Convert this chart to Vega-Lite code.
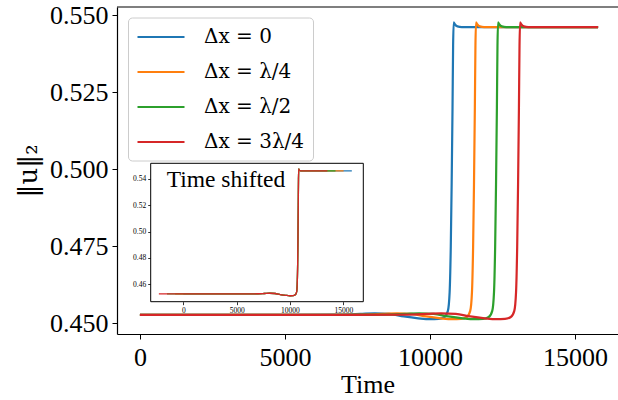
{
"$schema":"https://vega.github.io/schema/vega-lite/v6.json",
"width":501,"height":327,
"autosize":{"type":"none"},
"padding":{"left":117,"top":7,"right":0,"bottom":66},
"config":{"font":"Liberation Serif","view":{"stroke":null},"axis":{"grid":false,"domainColor":"black","tickColor":"black","labelColor":"black","titleColor":"black","titleFontWeight":"normal"}},
"data":{"values":[
{"s":"Δx = 0","t":0,"ts":0,"v":0.4527},{"s":"Δx = 0","t":5000,"ts":5000,"v":0.4527},{"s":"Δx = 0","t":7000,"ts":7000,"v":0.4528},{"s":"Δx = 0","t":7600,"ts":7600,"v":0.4530},{"s":"Δx = 0","t":8100,"ts":8100,"v":0.4532},{"s":"Δx = 0","t":8600,"ts":8600,"v":0.4530},{"s":"Δx = 0","t":9100,"ts":9100,"v":0.4522},{"s":"Δx = 0","t":9600,"ts":9600,"v":0.4516},{"s":"Δx = 0","t":10000,"ts":10000,"v":0.4513},{"s":"Δx = 0","t":10300,"ts":10300,"v":0.4514},{"s":"Δx = 0","t":10500,"ts":10500,"v":0.4520},{"s":"Δx = 0","t":10620,"ts":10620,"v":0.4540},{"s":"Δx = 0","t":10680,"ts":10680,"v":0.4600},{"s":"Δx = 0","t":10720,"ts":10720,"v":0.4750},{"s":"Δx = 0","t":10750,"ts":10750,"v":0.4950},{"s":"Δx = 0","t":10780,"ts":10780,"v":0.5200},{"s":"Δx = 0","t":10800,"ts":10800,"v":0.5400},{"s":"Δx = 0","t":10820,"ts":10820,"v":0.5476},{"s":"Δx = 0","t":10860,"ts":10860,"v":0.5470},{"s":"Δx = 0","t":10950,"ts":10950,"v":0.5463},{"s":"Δx = 0","t":11100,"ts":11100,"v":0.5461},{"s":"Δx = 0","t":15800,"ts":15800,"v":0.5461},
{"s":"Δx = λ/4","t":0,"ts":-770,"v":0.4527},{"s":"Δx = λ/4","t":5770,"ts":5000,"v":0.4527},{"s":"Δx = λ/4","t":7770,"ts":7000,"v":0.4528},{"s":"Δx = λ/4","t":8370,"ts":7600,"v":0.4530},{"s":"Δx = λ/4","t":8870,"ts":8100,"v":0.4532},{"s":"Δx = λ/4","t":9370,"ts":8600,"v":0.4530},{"s":"Δx = λ/4","t":9870,"ts":9100,"v":0.4522},{"s":"Δx = λ/4","t":10370,"ts":9600,"v":0.4516},{"s":"Δx = λ/4","t":10770,"ts":10000,"v":0.4513},{"s":"Δx = λ/4","t":11070,"ts":10300,"v":0.4514},{"s":"Δx = λ/4","t":11270,"ts":10500,"v":0.4520},{"s":"Δx = λ/4","t":11390,"ts":10620,"v":0.4540},{"s":"Δx = λ/4","t":11450,"ts":10680,"v":0.4600},{"s":"Δx = λ/4","t":11490,"ts":10720,"v":0.4750},{"s":"Δx = λ/4","t":11520,"ts":10750,"v":0.4950},{"s":"Δx = λ/4","t":11550,"ts":10780,"v":0.5200},{"s":"Δx = λ/4","t":11570,"ts":10800,"v":0.5400},{"s":"Δx = λ/4","t":11590,"ts":10820,"v":0.5476},{"s":"Δx = λ/4","t":11630,"ts":10860,"v":0.5470},{"s":"Δx = λ/4","t":11720,"ts":10950,"v":0.5463},{"s":"Δx = λ/4","t":11870,"ts":11100,"v":0.5461},{"s":"Δx = λ/4","t":15800,"ts":15030,"v":0.5461},
{"s":"Δx = λ/2","t":0,"ts":-1530,"v":0.4527},{"s":"Δx = λ/2","t":6530,"ts":5000,"v":0.4527},{"s":"Δx = λ/2","t":8530,"ts":7000,"v":0.4528},{"s":"Δx = λ/2","t":9130,"ts":7600,"v":0.4530},{"s":"Δx = λ/2","t":9630,"ts":8100,"v":0.4532},{"s":"Δx = λ/2","t":10130,"ts":8600,"v":0.4530},{"s":"Δx = λ/2","t":10630,"ts":9100,"v":0.4522},{"s":"Δx = λ/2","t":11130,"ts":9600,"v":0.4516},{"s":"Δx = λ/2","t":11530,"ts":10000,"v":0.4513},{"s":"Δx = λ/2","t":11830,"ts":10300,"v":0.4514},{"s":"Δx = λ/2","t":12030,"ts":10500,"v":0.4520},{"s":"Δx = λ/2","t":12150,"ts":10620,"v":0.4540},{"s":"Δx = λ/2","t":12210,"ts":10680,"v":0.4600},{"s":"Δx = λ/2","t":12250,"ts":10720,"v":0.4750},{"s":"Δx = λ/2","t":12280,"ts":10750,"v":0.4950},{"s":"Δx = λ/2","t":12310,"ts":10780,"v":0.5200},{"s":"Δx = λ/2","t":12330,"ts":10800,"v":0.5400},{"s":"Δx = λ/2","t":12350,"ts":10820,"v":0.5476},{"s":"Δx = λ/2","t":12390,"ts":10860,"v":0.5470},{"s":"Δx = λ/2","t":12480,"ts":10950,"v":0.5463},{"s":"Δx = λ/2","t":12630,"ts":11100,"v":0.5461},{"s":"Δx = λ/2","t":15800,"ts":14270,"v":0.5461},
{"s":"Δx = 3λ/4","t":0,"ts":-2290,"v":0.4527},{"s":"Δx = 3λ/4","t":7290,"ts":5000,"v":0.4527},{"s":"Δx = 3λ/4","t":9290,"ts":7000,"v":0.4528},{"s":"Δx = 3λ/4","t":9890,"ts":7600,"v":0.4530},{"s":"Δx = 3λ/4","t":10390,"ts":8100,"v":0.4532},{"s":"Δx = 3λ/4","t":10890,"ts":8600,"v":0.4530},{"s":"Δx = 3λ/4","t":11390,"ts":9100,"v":0.4522},{"s":"Δx = 3λ/4","t":11890,"ts":9600,"v":0.4516},{"s":"Δx = 3λ/4","t":12290,"ts":10000,"v":0.4513},{"s":"Δx = 3λ/4","t":12590,"ts":10300,"v":0.4514},{"s":"Δx = 3λ/4","t":12790,"ts":10500,"v":0.4520},{"s":"Δx = 3λ/4","t":12910,"ts":10620,"v":0.4540},{"s":"Δx = 3λ/4","t":12970,"ts":10680,"v":0.4600},{"s":"Δx = 3λ/4","t":13010,"ts":10720,"v":0.4750},{"s":"Δx = 3λ/4","t":13040,"ts":10750,"v":0.4950},{"s":"Δx = 3λ/4","t":13070,"ts":10780,"v":0.5200},{"s":"Δx = 3λ/4","t":13090,"ts":10800,"v":0.5400},{"s":"Δx = 3λ/4","t":13110,"ts":10820,"v":0.5476},{"s":"Δx = 3λ/4","t":13150,"ts":10860,"v":0.5470},{"s":"Δx = 3λ/4","t":13240,"ts":10950,"v":0.5463},{"s":"Δx = 3λ/4","t":13390,"ts":11100,"v":0.5461},{"s":"Δx = 3λ/4","t":15800,"ts":13510,"v":0.5461}
]},
"layer":[
 {"layer":[
   {"mark":{"type":"line","strokeWidth":2.2,"interpolate":"monotone"},
    "encoding":{
     "x":{"field":"t","type":"quantitative","scale":{"domain":[-790,16486],"nice":false,"zero":false},"axis":{"values":[0,5000,10000,15000],"format":"d","title":"Time","labelFontSize":26,"titleFontSize":26,"tickSize":5,"tickWidth":1,"domainWidth":1.2,"labelPadding":5,"titlePadding":1,"labelFlush":false}},
     "y":{"field":"v","type":"quantitative","scale":{"domain":[0.4465,0.5526],"nice":false,"zero":false},"axis":{"values":[0.45,0.475,0.5,0.525,0.55],"format":".3f","title":"‖u‖₂","titleFont":"DejaVu Serif","labelFontSize":26,"titleFontSize":26,"tickSize":5,"tickWidth":1,"domainWidth":1.2,"labelPadding":4,"titlePadding":8,"labelFlush":false}},
     "color":{"field":"s","type":"nominal","scale":{"domain":["Δx = 0","Δx = λ/4","Δx = λ/2","Δx = 3λ/4"],"range":["#1f77b4","#ff7f0e","#2ca02c","#d62728"]},
      "legend":{"title":null,"orient":"none","legendX":11,"legendY":10.5,"padding":8,"strokeColor":"#cccccc","fillColor":"rgba(255,255,255,0.8)","cornerRadius":4,"labelFont":"DejaVu Serif","labelFontSize":20,"labelColor":"black","symbolType":"M-1,0H3.7","symbolSize":400,"symbolStrokeWidth":2.2,"labelOffset":45,"rowPadding":13}}
    }},
   {"data":{"values":[{}]},"mark":{"type":"rule","color":"black","strokeWidth":1.2},"encoding":{"y":{"datum":0.5526}}}
 ]},
 {"layer":[
   {"data":{"values":[{}]},"mark":{"type":"rect","fill":"white","stroke":"black","strokeWidth":1},
    "encoding":{
     "x":{"datum":-3056,"type":"quantitative","scale":{"domain":[-3056,16875],"range":[33.7,246.3],"nice":false,"zero":false},"axis":{"orient":"bottom","offset":-32.3,"values":[0,5000,10000,15000],"format":"d","title":null,"labelFontSize":7.5,"labelColor":"black","tickSize":3,"tickWidth":0.8,"domain":false,"labelPadding":2,"labelFlush":false}},
     "x2":{"datum":16875},
     "y":{"datum":0.44678,"type":"quantitative","scale":{"domain":[0.44678,0.5519],"range":[294.7,156.3],"nice":false,"zero":false},"axis":{"orient":"left","offset":-33.7,"values":[0.46,0.48,0.5,0.52,0.54],"format":".2f","title":null,"labelFontSize":7.5,"labelColor":"black","tickSize":3,"tickWidth":0.8,"domain":false,"labelPadding":2,"labelFlush":false}},
     "y2":{"datum":0.5519}}},
   {"mark":{"type":"line","strokeWidth":1.3,"interpolate":"monotone"},"encoding":{"x":{"field":"ts","type":"quantitative"},"y":{"field":"v","type":"quantitative"},"color":{"field":"s","type":"nominal"}}},
   {"data":{"values":[{}]},"mark":{"type":"text","text":"Time shifted","fontSize":23.5,"align":"left","baseline":"alphabetic","font":"Liberation Serif","color":"black"},"encoding":{"x":{"datum":-1556},"y":{"datum":0.5341}}}
 ]}
],
"resolve":{"scale":{"x":"independent","y":"independent"}}
}
